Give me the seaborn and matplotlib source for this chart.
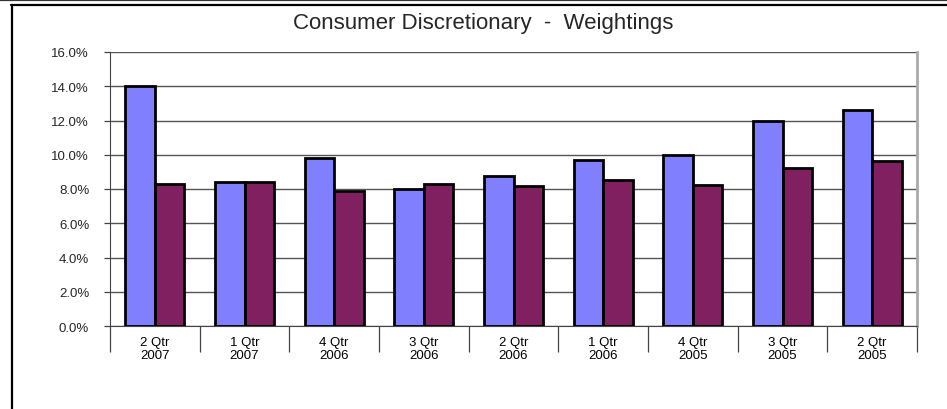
import numpy as np
import pandas as pd
import matplotlib
matplotlib.use("Agg")
import matplotlib.pyplot as plt
import seaborn as sns
from matplotlib.ticker import PercentFormatter, FixedLocator
from matplotlib.lines import Line2D

# data
quarters = ["2 Qtr\n2007", "1 Qtr\n2007", "4 Qtr\n2006", "3 Qtr\n2006", "2 Qtr\n2006",
            "1 Qtr\n2006", "4 Qtr\n2005", "3 Qtr\n2005", "2 Qtr\n2005"]
series_a = [14.0, 8.4, 9.8, 8.0, 8.75, 9.7, 10.0, 12.0, 12.6]
series_b = [8.3, 8.4, 7.9, 8.3, 8.2, 8.5, 8.25, 9.2, 9.65]

df = pd.DataFrame({
    "Quarter": quarters * 2,
    "Weight": series_a + series_b,
    "Series": ["A"] * len(quarters) + ["B"] * len(quarters),
})

sns.set_style("white")
plt.rcParams["font.family"] = ["Liberation Sans", "DejaVu Sans"]

fig = plt.figure(figsize=(9.47, 4.10), dpi=100)
ax = fig.add_axes([110 / 947, 1 - 327 / 410, (917 - 110) / 947, (327 - 53) / 410])

sns.barplot(data=df, x="Quarter", y="Weight", hue="Series", order=quarters,
            palette={"A": "#8080FF", "B": "#802060"}, width=0.66, gap=0,
            saturation=1, edgecolor="black", linewidth=2, legend=False, ax=ax, zorder=3)

ax.set_ylim(0, 16)
ax.set_xlim(-0.5, len(quarters) - 0.5)
ax.set_yticks(np.arange(0, 16.1, 2))
ax.yaxis.set_major_formatter(PercentFormatter(decimals=1))
ax.grid(axis="y", color="#555555", linewidth=1, zorder=0)
ax.set_axisbelow(True)
ax.set_xlabel("")
ax.set_ylabel("")

# category labels centred, separators at the boundaries
ax.tick_params(axis="x", which="major", length=0, pad=7, labelsize=9.5, colors="black")
for lbl in ax.get_xticklabels():
    lbl.set_linespacing(1.1)
ax.xaxis.set_minor_locator(FixedLocator(np.arange(-0.5, len(quarters), 1)))
ax.tick_params(axis="x", which="minor", bottom=True, length=19, width=0.9,
               color="#444444", direction="out")
ax.tick_params(axis="y", length=4, width=0.9, color="#444444", labelsize=9.5, pad=11,
               direction="out", left=True)

ax.spines["top"].set_visible(False)
ax.spines["left"].set_color("#444444")
ax.spines["bottom"].set_color("#444444")
ax.spines["right"].set_color("#aaaaaa")
ax.spines["right"].set_linewidth(2)

fig.text(483 / 947, 1 - 23 / 410, "Consumer Discretionary  -  Weightings",
         ha="center", va="center", fontsize=16)

# outer frame lines
fig.add_artist(Line2D([0, 1], [1 - 1 / 410, 1 - 1 / 410], color="#333333", linewidth=1.6))
fig.add_artist(Line2D([0.0116, 1], [1 - 6 / 410, 1 - 6 / 410], color="black", linewidth=1.6))
fig.add_artist(Line2D([11.5 / 947, 11.5 / 947], [0, 1 - 6 / 410], color="black", linewidth=1.6))

fig.savefig("out.png", dpi=100)
